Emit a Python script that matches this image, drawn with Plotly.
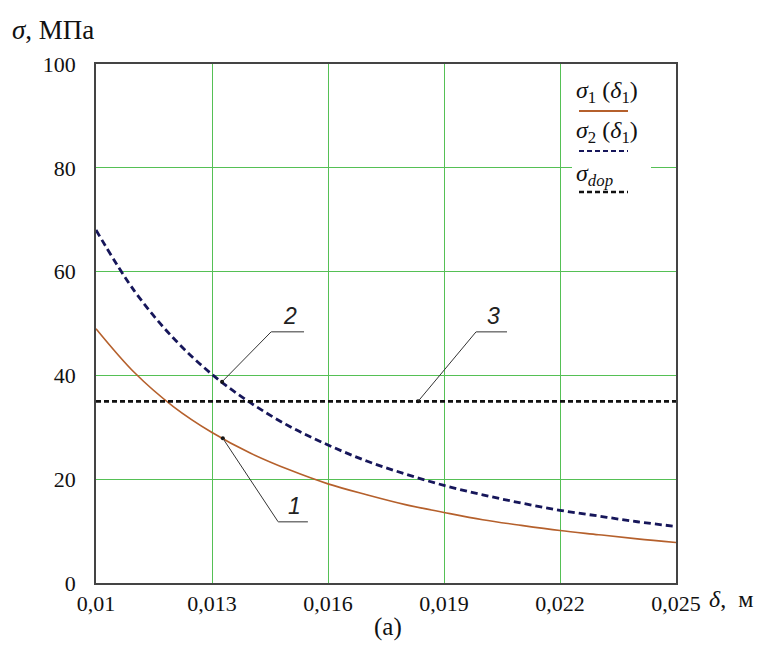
import numpy as np
import plotly.graph_objects as go

# ---- data ----
delta = [0.010, 0.011, 0.012, 0.013, 0.014, 0.015, 0.016, 0.017,
         0.018, 0.019, 0.020, 0.021, 0.022, 0.023, 0.024, 0.025]
sigma1 = [49.0, 40.5, 34.0, 29.0, 25.0, 21.8, 19.1, 17.0,
          15.1, 13.6, 12.2, 11.1, 10.1, 9.3, 8.5, 7.8]
sigma2 = [68.0, 56.2, 47.2, 40.2, 34.7, 30.2, 26.6, 23.5,
          21.0, 18.8, 17.0, 15.4, 14.0, 12.9, 11.8, 10.9]
sigma_dop = [35.0] * len(delta)

x_ticks = [0.010, 0.013, 0.016, 0.019, 0.022, 0.025]
x_ticklabels = ["0,01", "0,013", "0,016", "0,019", "0,022", "0,025"]
y_ticks = [0, 20, 40, 60, 80, 100]

# leader-line labels: (label, series, delta at point, elbow x, elbow y, underline end x)
leaders = [
    ("1", sigma1, 0.01328, 0.01471, 11.8, 0.01548),
    ("2", sigma2, 0.01326, 0.01453, 48.4, 0.01538),
    ("3", sigma_dop, 0.01833, 0.01983, 48.4, 0.02063),
]

W, H = 775, 655
L, R, T, B = 96, 676, 64, 583


def px(xp):
    return (xp - L) / (R - L)


def py(yp):
    return (B - yp) / (B - T)


SERIF = "Liberation Serif"
C1 = "#b5602c"
C2 = "#16165a"
C3 = "#111111"
GRID = "#55c055"

fig = go.Figure()
fig.add_trace(go.Scatter(x=delta, y=sigma1, mode="lines", line_shape="spline",
                         line=dict(color=C1, width=1.6), showlegend=False))
fig.add_trace(go.Scatter(x=delta, y=sigma2, mode="lines", line_shape="spline",
                         line=dict(color=C2, width=2.8, dash="7px,4px"), showlegend=False))
fig.add_trace(go.Scatter(x=delta, y=sigma_dop, mode="lines",
                         line=dict(color=C3, width=2.6, dash="5px,3px"), showlegend=False))

shapes = []
annotations = []

# leader lines
for lab, ser, xd, ex, ey, ux in leaders:
    yd = float(np.interp(xd, delta, ser))
    shapes.append(dict(type="line", xref="x", yref="y", x0=xd, y0=yd, x1=ex, y1=ey,
                       line=dict(color="#333333", width=1), layer="above"))
    shapes.append(dict(type="line", xref="x", yref="y", x0=ex, y0=ey, x1=ux, y1=ey,
                       line=dict(color="#777777", width=1.5), layer="above"))
    fig.add_trace(go.Scatter(x=[xd], y=[yd], mode="markers",
                             marker=dict(color="#111111", size=4), showlegend=False))
    annotations.append(dict(x=(ex + ux) / 2 + 0.00005, y=ey, xref="x", yref="y",
                            text="<i>" + lab + "</i>", showarrow=False, yanchor="bottom",
                            yshift=1, font=dict(family="Liberation Sans", size=23, color="#222222")))

# custom legend
shapes.append(dict(type="rect", xref="paper", yref="paper", x0=px(572), x1=px(651),
                   y0=py(205), y1=py(74), fillcolor="white", line=dict(width=0), layer="above"))
leg = [
    ("<i>σ</i><sub>1</sub> (<i>δ</i><sub>1</sub>)", 92, 111, dict(color=C1, width=2)),
    ("<i>σ</i><sub>2</sub> (<i>δ</i><sub>1</sub>)", 132, 151, dict(color=C2, width=2.2, dash="5px,3px")),
    ("<i>σ<sub>dop</sub></i>", 175, 192, dict(color=C3, width=2.6, dash="5px,3px")),
]
for txt, ty, ly, lst in leg:
    annotations.append(dict(x=px(574), y=py(ty), xref="paper", yref="paper", text=txt,
                            showarrow=False, xanchor="left", yanchor="middle",
                            font=dict(family=SERIF, size=24, color="#111111")))
    shapes.append(dict(type="line", xref="paper", yref="paper", x0=px(579), x1=px(628),
                       y0=py(ly), y1=py(ly), line=lst, layer="above"))

# axis titles and caption
annotations.append(dict(x=px(10), y=py(30), xref="paper", yref="paper",
                        text="<i>σ</i>, МПа", showarrow=False, xanchor="left", yanchor="middle",
                        font=dict(family=SERIF, size=27, color="#111111")))
annotations.append(dict(x=px(707), y=py(599), xref="paper", yref="paper",
                        text="<i>δ</i>,\u00a0\u00a0м", showarrow=False, xanchor="left", yanchor="middle",
                        font=dict(family=SERIF, size=24, color="#111111")))
annotations.append(dict(x=px(388), y=py(627), xref="paper", yref="paper",
                        text="(a)", showarrow=False, xanchor="center", yanchor="middle",
                        font=dict(family=SERIF, size=25, color="#111111")))

fig.update_layout(
    width=W, height=H,
    margin=dict(l=L, r=W - R, t=T, b=H - B),
    paper_bgcolor="white", plot_bgcolor="white",
    shapes=shapes, annotations=annotations,
    font=dict(family=SERIF, size=20, color="#111111"),
)
fig.update_xaxes(range=[0.010, 0.025], tickvals=x_ticks, ticktext=x_ticklabels,
                 showgrid=True, gridcolor=GRID, gridwidth=1, zeroline=False,
                 showline=True, linecolor="#444444", linewidth=1.5, mirror=True,
                 ticks="", ticklabelstandoff=0,
                 tickfont=dict(family=SERIF, size=22, color="#111111"))
fig.update_yaxes(range=[0, 100], tickvals=y_ticks,
                 showgrid=True, gridcolor=GRID, gridwidth=1, zeroline=False,
                 showline=True, linecolor="#444444", linewidth=1.5, mirror=True,
                 ticks="", ticklabelstandoff=14,
                 tickfont=dict(family=SERIF, size=22, color="#111111"))

fig.write_html("out.html", post_script="document.body.style.margin='0';",
               config={"displayModeBar": False})
